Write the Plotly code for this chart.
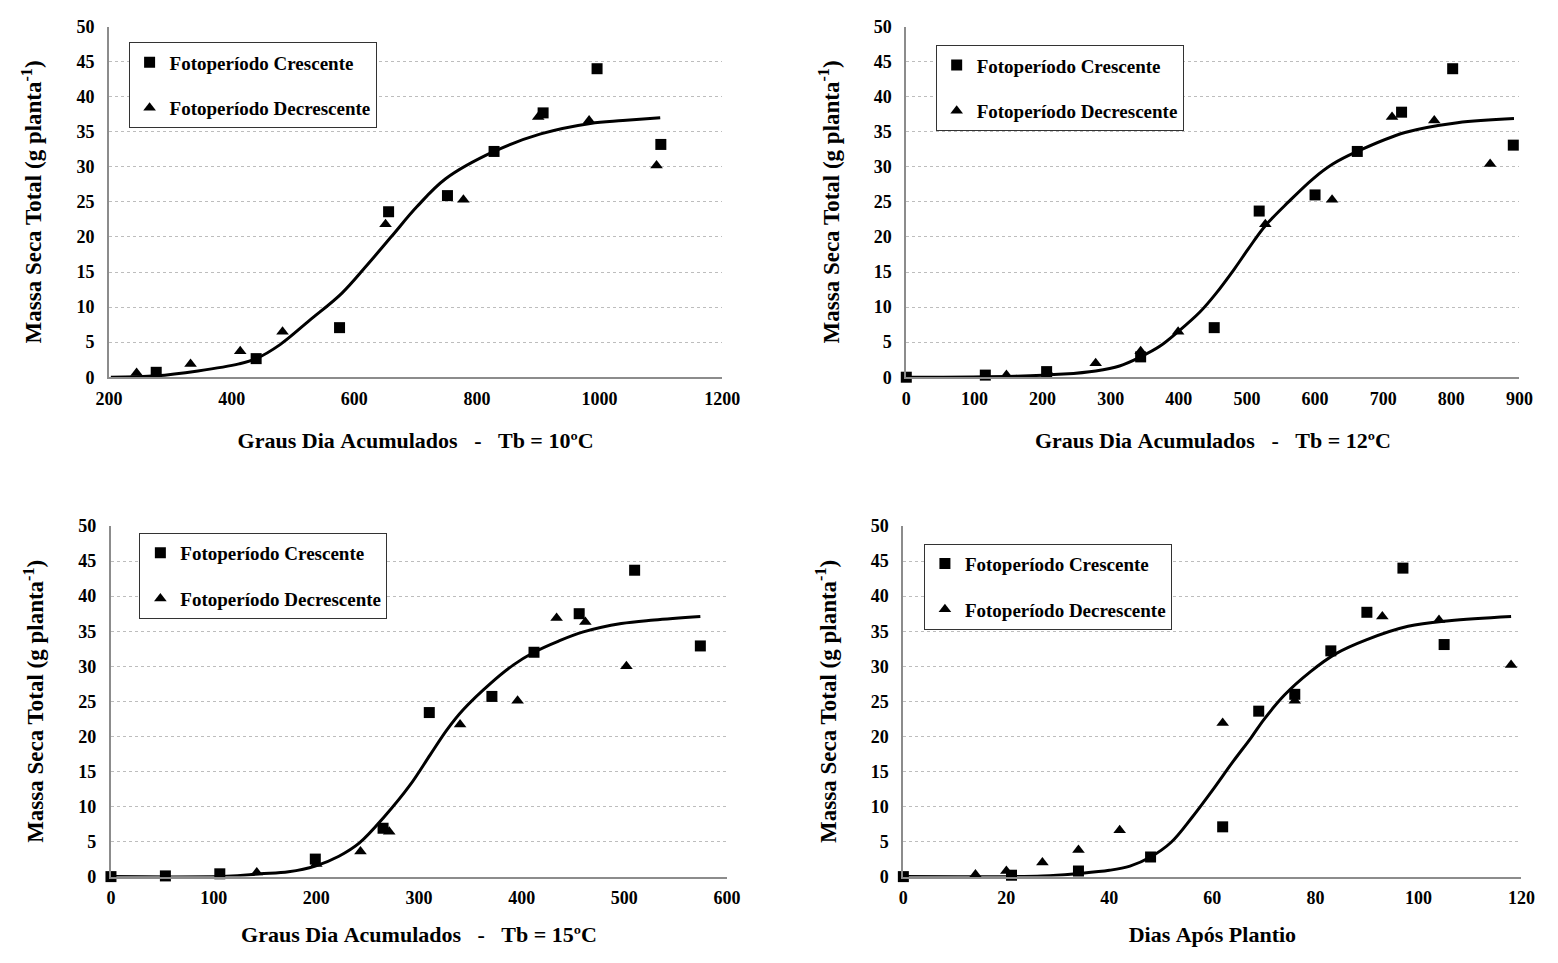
import plotly.graph_objects as go

# ---------------- data ----------------
# Panel 1: Graus Dia Acumulados, Tb = 10ºC
p1_sq_x = [277, 440, 576, 656, 752, 828, 908, 996, 1100]
p1_sq_y = [0.7, 2.65, 7.07, 23.6, 25.9, 32.2, 37.7, 44.0, 33.2]
p1_tr_x = [245, 333, 414, 483, 651, 778, 900, 983, 1093]
p1_tr_y = [0.6, 1.9, 3.7, 6.5, 21.8, 25.3, 37.1, 36.6, 30.2]
p1_fit_x = [203, 277, 345, 412, 440, 479, 527, 580, 621, 661, 702, 749, 828, 904, 985, 1038, 1099]
p1_fit_y = [0.0, 0.2, 0.9, 1.9, 2.65, 4.65, 8.1, 12.0, 16.0, 20.1, 24.3, 28.3, 32.2, 34.7, 36.2, 36.6, 37.0]

# Panel 2: Graus Dia Acumulados, Tb = 12ºC
p2_sq_x = [0, 116, 206, 344, 452, 518, 600, 662, 727, 802, 891]
p2_sq_y = [0.0, 0.3, 0.8, 2.9, 7.07, 23.7, 26.0, 32.2, 37.8, 44.0, 33.1]
p2_tr_x = [147, 208, 278, 344, 399, 527, 625, 713, 775, 857]
p2_tr_y = [0.3, 0.7, 2.0, 3.7, 6.5, 21.8, 25.3, 37.1, 36.6, 30.4]
p2_fit_x = [0, 160, 231, 278, 313, 344, 372, 399, 431, 455, 482, 502, 527, 561, 597, 626, 662, 732, 809, 892]
p2_fit_y = [0.0, 0.15, 0.45, 0.9, 1.6, 2.9, 4.4, 6.5, 9.3, 12.0, 15.5, 18.3, 21.6, 25.0, 28.3, 30.4, 32.2, 34.9, 36.3, 36.9]

# Panel 3: Graus Dia Acumulados, Tb = 15ºC
p3_sq_x = [0, 53, 106, 199, 265, 310, 371, 412, 456, 510, 574]
p3_sq_y = [0.0, 0.1, 0.4, 2.5, 6.9, 23.4, 25.7, 32.0, 37.5, 43.7, 32.9]
p3_tr_x = [142, 200, 243, 271, 340, 396, 434, 462, 502]
p3_tr_y = [0.6, 1.8, 3.6, 6.4, 21.7, 25.1, 36.9, 36.3, 30.0]
p3_fit_x = [0, 113, 145, 173, 199, 222, 242, 266, 291, 311, 327, 343, 370, 392, 412, 436, 460, 497, 529, 574]
p3_fit_y = [0.0, 0.05, 0.4, 0.7, 1.5, 2.9, 4.8, 8.5, 13.0, 17.4, 20.9, 23.8, 27.6, 30.2, 32.0, 33.6, 34.9, 36.1, 36.6, 37.1]

# Panel 4: Dias Após Plantio
p4_sq_x = [0, 21, 34, 48, 62, 69, 76, 83, 90, 97, 105]
p4_sq_y = [0.0, 0.2, 0.8, 2.8, 7.1, 23.6, 26.0, 32.2, 37.7, 44.0, 33.1]
p4_tr_x = [14, 20, 27, 34, 42, 62, 76, 93, 104, 118]
p4_tr_y = [0.3, 0.8, 2.0, 3.8, 6.6, 21.9, 25.1, 37.1, 36.6, 30.2]
p4_fit_x = [0, 27, 34, 40, 44, 48, 52, 56, 60, 64, 67.5, 70, 74, 79, 84, 90, 98, 106, 118]
p4_fit_y = [0.0, 0.1, 0.45, 0.9, 1.5, 2.8, 4.9, 8.4, 12.3, 16.4, 19.8, 22.4, 25.9, 29.2, 31.8, 33.8, 35.7, 36.5, 37.1]

y_ticks = [0, 5, 10, 15, 20, 25, 30, 35, 40, 45, 50]
x_ranges = [[200, 1200], [0, 900], [0, 600], [0, 120]]
x_dticks = [200, 100, 100, 20]
x_titles = [
    "Graus\u00a0Dia\u00a0Acumulados\u00a0\u00a0\u00a0-\u00a0\u00a0\u00a0Tb\u00a0=\u00a010ºC",
    "Graus\u00a0Dia\u00a0Acumulados\u00a0\u00a0\u00a0-\u00a0\u00a0\u00a0Tb\u00a0=\u00a012ºC",
    "Graus\u00a0Dia\u00a0Acumulados\u00a0\u00a0\u00a0-\u00a0\u00a0\u00a0Tb\u00a0=\u00a015ºC",
    "Dias\u00a0Após\u00a0Plantio",
]
y_title = "Massa Seca Total (g planta<sup>-1</sup>)"
name_sq = "Fotoperíodo Crescente"
name_tr = "Fotoperíodo Decrescente"

panels = [
    (p1_sq_x, p1_sq_y, p1_tr_x, p1_tr_y, p1_fit_x, p1_fit_y),
    (p2_sq_x, p2_sq_y, p2_tr_x, p2_tr_y, p2_fit_x, p2_fit_y),
    (p3_sq_x, p3_sq_y, p3_tr_x, p3_tr_y, p3_fit_x, p3_fit_y),
    (p4_sq_x, p4_sq_y, p4_tr_x, p4_tr_y, p4_fit_x, p4_fit_y),
]

# ---------------- layout geometry (window pixels) ----------------
W, H = 1558, 963
FONT = "Liberation Serif"


def px_x(px):
    return px / W


def px_y(py):
    return 1 - py / H


x_px = [(97, 723), (911, 1537), (99, 728), (908, 1539)]
y_px = [(375, 17), (375, 17), (885, 527), (885, 527)]
legend_px = [(117, 33), (941, 36), (128, 534), (929, 545)]
xtitle_standoff = [25, 25, 19, 19]

fig = go.Figure()
layout = dict(
    width=W, height=H,
    margin=dict(l=0, r=0, t=0, b=0),
    paper_bgcolor="white", plot_bgcolor="white",
    showlegend=True,
)

for i, (sx, sy, tx, ty, fx, fy) in enumerate(panels):
    k = "" if i == 0 else str(i + 1)
    xa, ya = "x" + k, "y" + k
    lg = "legend" + k
    fig.add_trace(go.Scatter(
        x=fx, y=fy, mode="lines", xaxis=xa, yaxis=ya,
        line=dict(color="black", width=3, shape="spline", smoothing=1.0),
        showlegend=False, hoverinfo="skip", cliponaxis=False))
    fig.add_trace(go.Scatter(
        x=sx, y=sy, mode="markers", name=name_sq, xaxis=xa, yaxis=ya,
        marker=dict(symbol="square", size=11, color="black"),
        legend=lg, legendgroup="sq" + k, cliponaxis=False))
    fig.add_trace(go.Scatter(
        x=tx, y=ty, mode="markers", name=name_tr, xaxis=xa, yaxis=ya,
        marker=dict(symbol="triangle-up", size=11, color="black"),
        legend=lg, legendgroup="tr" + k, cliponaxis=False))

    layout["xaxis" + k] = dict(
        domain=[px_x(x_px[i][0]), px_x(x_px[i][1])],
        range=x_ranges[i], dtick=x_dticks[i], tick0=0,
        anchor=ya, showgrid=False, zeroline=False,
        showline=True, linecolor="#8c8c8c", linewidth=2,
        ticks="", tickfont=dict(family=FONT, size=18, color="black", weight="bold"),
        ticklabelstandoff=4,
        title=dict(text=x_titles[i], standoff=xtitle_standoff[i],
                   font=dict(family=FONT, size=22, color="black", weight="bold")),
    )
    layout["yaxis" + k] = dict(
        domain=[px_y(y_px[i][0]), px_y(y_px[i][1])],
        range=[0, 50], tickvals=y_ticks,
        anchor=xa, showgrid=True, gridcolor="#bdbdbd", gridwidth=1, griddash="dot",
        zeroline=False, showline=True, linecolor="#8c8c8c", linewidth=2,
        ticks="", tickfont=dict(family=FONT, size=18, color="black", weight="bold"),
        ticklabelstandoff=9,
        title=dict(text=y_title, standoff=28,
                   font=dict(family=FONT, size=23, color="black", weight="bold")),
    )
    layout[lg] = dict(
        x=px_x(legend_px[i][0]), y=px_y(legend_px[i][1]),
        xanchor="left", yanchor="top", xref="paper", yref="paper",
        bgcolor="white", bordercolor="#333333", borderwidth=1,
        font=dict(family=FONT, size=19, color="black", weight="bold"),
        tracegroupgap=18, itemwidth=30,
    )

fig.update_layout(**layout)
fig.write_html("out.html")
